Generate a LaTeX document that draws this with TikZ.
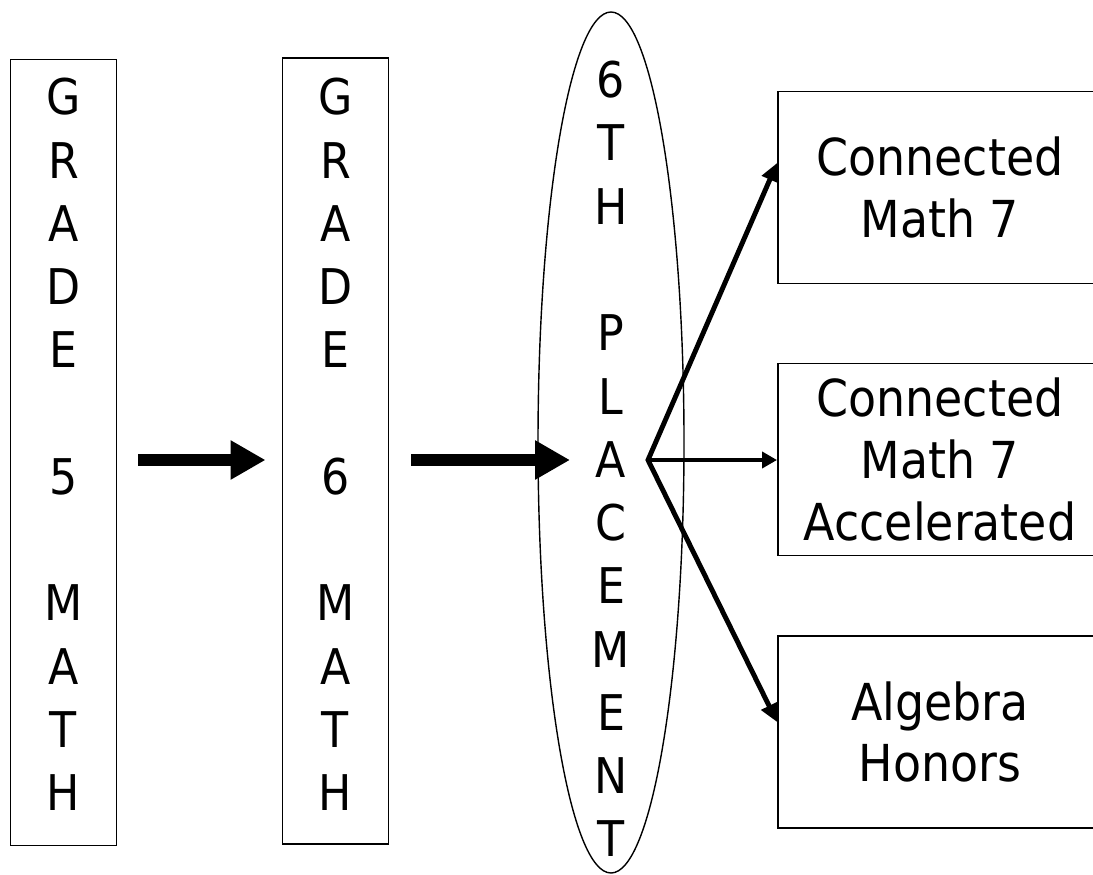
\documentclass[tikz,border=0pt]{standalone}
\usepackage{fontspec}
\setmainfont{DejaVu Sans Condensed}
\usetikzlibrary{shapes.geometric,arrows.meta}

\begin{document}
\begin{tikzpicture}[
    colbox/.style={draw,line width=1.1pt,minimum width=2.12cm,minimum height=15.72cm},
    coltext/.style={align=center,font=\fontsize{28}{36}\selectfont},
    coursebox/.style={draw,line width=1.1pt,minimum width=6.48cm,minimum height=3.84cm,
        align=center,font=\fontsize{29}{35}\selectfont},
    bigarrow/.style={line width=7.2pt,-{Triangle[length=0.7cm,width=0.74cm]}},
    fanarrow/.style={line width=2.8pt,line join=miter,
        {Triangle[length=0.36cm,width=0.34cm]}-{Triangle[length=0.36cm,width=0.34cm]}},
    thinarrow/.style={line width=2.2pt,-{Triangle[length=0.3cm,width=0.32cm]}}]
    \clip (0,0) rectangle (21.86,17.48);

    % Grade columns
    \node[colbox] (g5box) at (1.27,8.43) {};
    \node[coltext] (g5txt) at (1.27,8.59) {G\\R\\A\\D\\E\\\mbox{}\\5\\\mbox{}\\M\\A\\T\\H};
    \node[colbox] (g6box) at (6.71,8.46) {};
    \node[coltext] (g6txt) at (6.71,8.59) {G\\R\\A\\D\\E\\\mbox{}\\6\\\mbox{}\\M\\A\\T\\H};

    % Placement ellipse
    \node[draw,ellipse,line width=0.8pt,inner sep=0pt,minimum width=2.92cm,minimum height=17.22cm] (place) at (12.22,8.63) {};
    \node[coltext] (placetxt) at (12.22,8.30) {6\\T\\H\\\mbox{}\\P\\L\\A\\C\\E\\M\\E\\N\\T};

    % Courses
    \node[coursebox] (cm7) at (18.8,13.73) {Connected\\Math 7};
    \node[coursebox] (cm7a) at (18.8,8.29) {Connected\\Math 7\\Accelerated};
    \node[coursebox] (alg) at (18.8,2.84) {Algebra\\Honors};

    % Arrows between columns
    \coordinate (mid) at (0,8.28);
    \draw[bigarrow,shorten <=0.42cm,shorten >=0.32cm] (g5box.east |- mid) -- (g6box.west |- mid);
    \draw[bigarrow,shorten <=0.44cm,shorten >=0.82cm] (g6box.east |- mid) -- (place.center |- mid);

    % Fan out to the courses
    \coordinate (fan) at (12.96,8.28);
    \draw[fanarrow] ([yshift=0.49cm]cm7.west) -- (fan) -- ([yshift=0.2cm]alg.west);
    \draw[thinarrow] (fan) -- (cm7a.west |- fan);
\end{tikzpicture}
\end{document}
